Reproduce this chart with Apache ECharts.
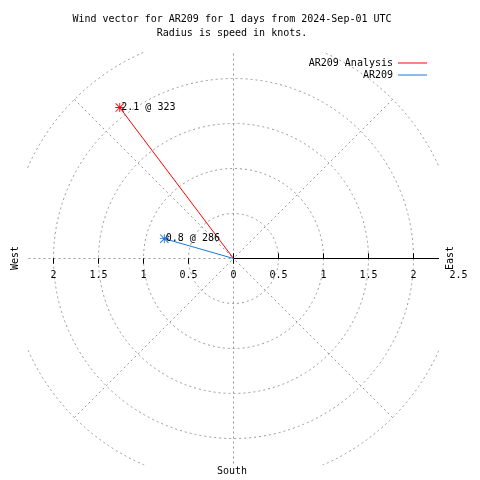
<!DOCTYPE html>
<html>
<head>
<meta charset="utf-8">
<script src="https://cdn.jsdelivr.net/npm/echarts@6/dist/echarts.min.js"></script>
<style>html,body{margin:0;padding:0;background:#fff;}#c{width:480px;height:480px;}</style>
</head>
<body>
<div id="c"></div>
<script>
// ---- data ----
const titleLines = ['Wind vector for AR209 for 1 days from 2024-Sep-01 UTC', 'Radius is speed in knots.'];
const seriesNames = ['AR209 Analysis', 'AR209'];
const speeds = [2.1, 0.8];        // knots (radius)
const directions = [323, 286];    // degrees, compass (clockwise from north)
const radiusMax = 2.5;
const radiusStep = 0.5;
const angleStep = 45;
const compassNames = ['West', 'East', 'South'];

// ---- styles ----
const colors = ['#ff0000', '#1a78dc'];
const FONT = 'DejaVu Sans Mono';
const GRID = { color: '#999999', width: 1, type: [2, 3] };
const CENTER = [233.5, 258.5];
const R = 225;
const STAR = 'path://M9,0L11,0L11,20L9,20Z M0,9L20,9L20,11L0,11Z M0,1.4L1.4,0L20,18.6L18.6,20Z M18.6,0L20,1.4L1.4,20L0,18.6Z';

const chart = echarts.init(document.getElementById('c'), null, { renderer: 'canvas' });

const baseRadius = { type: 'value', min: 0, max: radiusMax, interval: radiusStep,
  splitLine: { show: false }, splitArea: { show: false } };
const labelStyle = { color: '#000', fontFamily: FONT, fontSize: 10 };

const option = {
  animation: false,
  backgroundColor: '#fff',
  title: {
    text: titleLines.join('\n'),
    left: 232, top: 12, padding: 0, textAlign: 'center',
    textStyle: { fontFamily: FONT, fontSize: 10, fontWeight: 'normal', color: '#000', lineHeight: 14 }
  },
  legend: {
    data: seriesNames.map(n => ({ name: n, icon: 'rect' })),
    orient: 'vertical', right: 53, top: 57, padding: 0, align: 'right',
    itemWidth: 29, itemHeight: 1, itemGap: 0, selectedMode: false,
    textStyle: { fontFamily: FONT, fontSize: 10, color: '#000', lineHeight: 12 }
  },
  polar: [0, 1, 2, 3, 4].map(() => ({ center: CENTER, radius: R })),
  angleAxis: [
    { polarIndex: 0, type: 'value', min: 0, max: 360, interval: angleStep, startAngle: 90, clockwise: true,
      axisLine: { show: false }, axisTick: { show: false }, axisLabel: { show: false },
      splitLine: { show: true, lineStyle: GRID } },
    { polarIndex: 1, type: 'value', min: 0, max: 360, startAngle: 0, show: false },
    { polarIndex: 2, type: 'value', min: 0, max: 360, startAngle: 0, show: false },
    { polarIndex: 3, type: 'value', min: 0, max: 360, startAngle: 180, show: false },
    { polarIndex: 4, type: 'value', min: 0, max: 360, startAngle: 180, show: false }
  ],
  radiusAxis: [
    Object.assign({}, baseRadius, { polarIndex: 0,
      axisLine: { show: false }, axisTick: { show: false }, axisLabel: { show: false },
      splitLine: { show: true, lineStyle: GRID } }),
    Object.assign({}, baseRadius, { polarIndex: 1, z: 2,
      axisLine: { show: true, lineStyle: { color: '#000', width: 1 } },
      axisTick: { show: true, length: 5, lineStyle: { color: '#000' } },
      axisLabel: Object.assign({ show: true, margin: -12, verticalAlign: 'top', align: 'center',
        formatter: v => (v === 0 ? '' : String(v)) }, labelStyle) }),
    Object.assign({}, baseRadius, { polarIndex: 2, z: 2,
      axisLine: { show: false },
      axisTick: { show: true, inside: true, length: 5, lineStyle: { color: '#000' } },
      axisLabel: { show: false } }),
    Object.assign({}, baseRadius, { polarIndex: 3, z: 0,
      axisLine: { show: false },
      axisTick: { show: true, length: 5, lineStyle: { color: '#000' } },
      axisLabel: Object.assign({ show: true, margin: 12, verticalAlign: 'top', align: 'center',
        formatter: v => (v === radiusMax ? '' : String(v)) }, labelStyle) }),
    Object.assign({}, baseRadius, { polarIndex: 4, z: 0,
      axisLine: { show: false },
      axisTick: { show: true, inside: true, length: 5, lineStyle: { color: '#000' } },
      axisLabel: { show: false } })
  ],
  graphic: { elements: [
    // clip the grid to the square plot area
    { type: 'rect', z: 1, silent: true, shape: { x: 0, y: 0, width: 480, height: 52 }, style: { fill: '#fff' } },
    { type: 'rect', z: 1, silent: true, shape: { x: 0, y: 465, width: 480, height: 15 }, style: { fill: '#fff' } },
    { type: 'rect', z: 1, silent: true, shape: { x: 0, y: 0, width: 27, height: 480 }, style: { fill: '#fff' } },
    { type: 'rect', z: 1, silent: true, shape: { x: 439, y: 0, width: 41, height: 480 }, style: { fill: '#fff' } },
    { type: 'rect', z: 3, silent: true, shape: { x: 439, y: 245, width: 41, height: 22 }, style: { fill: '#fff' } },
    { type: 'text', z: 10, x: 15, y: 258, rotation: Math.PI / 2,
      style: { text: compassNames[0], fill: '#000', font: '10px ' + FONT, textAlign: 'center', textVerticalAlign: 'middle' } },
    { type: 'text', z: 10, x: 450, y: 258, rotation: Math.PI / 2,
      style: { text: compassNames[1], fill: '#000', font: '10px ' + FONT, textAlign: 'center', textVerticalAlign: 'middle' } },
    { type: 'text', z: 10, x: 232, y: 471,
      style: { text: compassNames[2], fill: '#000', font: '10px ' + FONT, textAlign: 'center', textVerticalAlign: 'middle' } }
  ] },
  series: seriesNames.map((name, i) => ({
    type: 'line', name: name, coordinateSystem: 'polar', polarIndex: 0,
    symbol: STAR, symbolSize: 9, showSymbol: true, z: 2,
    lineStyle: { color: colors[i], width: 1 },
    itemStyle: { color: colors[i] },
    emphasis: { disabled: true },
    data: [
      { value: [0, directions[i]], symbol: 'none' },
      { value: [speeds[i], directions[i]],
        label: { show: true, position: 'right', distance: -3,
          formatter: speeds[i] + ' @ ' + directions[i],
          color: '#000', fontFamily: FONT, fontSize: 10 } }
    ]
  }))
};
chart.setOption(option);
</script>
</body>
</html>
